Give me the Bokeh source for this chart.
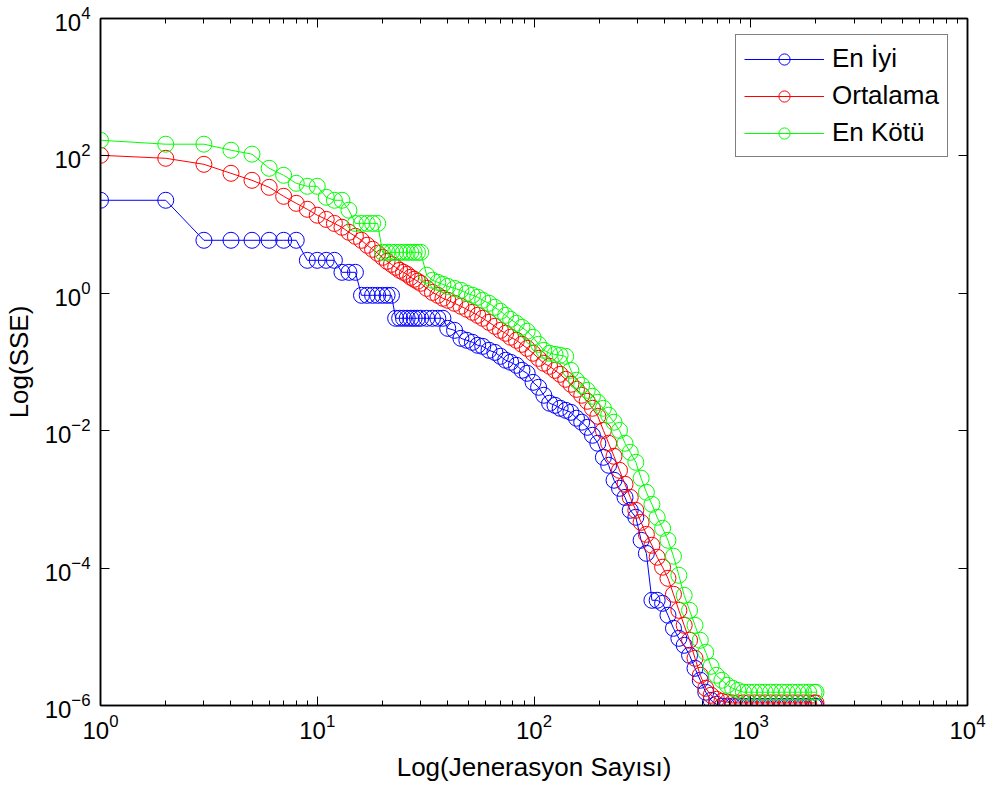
from bokeh.plotting import figure
from bokeh.models import (Range1d, LogAxis, FixedTicker, Legend, LegendItem,
                          CustomJSTickFormatter, ColumnDataSource)
from bokeh.embed import file_html
from bokeh.resources import INLINE

# ---- data ----
generations = [1, 2, 3, 4, 5, 6, 7, 8, 9, 10, 11, 12, 13, 14, 15, 16, 17, 18, 19, 20,
               21, 22, 23, 24, 25, 26, 27, 28, 29, 30,
               32, 34, 36, 38, 40, 43, 46, 49, 52, 55, 58, 62, 66, 70, 74, 78, 83, 88, 93, 99,
               105, 111, 118, 125, 132, 140, 148, 157, 166, 176, 186, 197, 209, 221, 234, 248,
               263, 278, 295, 312, 330, 350, 370, 392, 415, 440, 466, 493, 522, 553, 585, 620,
               656, 695, 736, 779, 825, 873, 925, 980, 1040, 1100, 1165, 1235, 1310, 1390, 1470,
               1560, 1650, 1750, 1850, 1960, 2000]

best = [22.6, 22.6, 5.91, 5.91, 5.91, 5.91, 5.91, 5.91, 3.02, 3.02, 3.02, 3.02, 2.02, 2.02, 2.02,
        0.935, 0.935, 0.935, 0.935, 0.935, 0.935, 0.935, 0.433, 0.433, 0.433, 0.433, 0.433, 0.433,
        0.433, 0.433,
        0.433, 0.433, 0.433, 0.433, 0.309, 0.289, 0.221, 0.207, 0.1935, 0.175, 0.169, 0.148, 0.138,
        0.121, 0.106, 0.099, 0.0895, 0.0757, 0.0685, 0.0506,
        0.0428, 0.0328, 0.0251, 0.0234, 0.0212, 0.0198, 0.0185, 0.0152, 0.0133, 0.0112, 0.00857,
        0.00656, 0.0041, 0.00314, 0.0019, 0.00145,
        0.00107, 6.94e-4, 5.49e-4, 2.54e-4, 1.64e-4, 3.4e-5, 3.4e-5, 3.07e-5, 2.06e-5, 1.33e-5,
        9.5e-6, 7.52e-6, 5.38e-6, 3.48e-6, 2.33e-6, 1.56e-6,
        1.19e-6, 1.04e-6, 9.8e-7, 9.8e-7, 9.8e-7, 9.8e-7, 9.8e-7, 9.8e-7, 9.8e-7, 9.8e-7, 9.8e-7,
        9.8e-7, 9.8e-7, 9.8e-7, 9.8e-7, 9.8e-7, 9.8e-7, 9.8e-7, 9.8e-7, 9.8e-7, 9.8e-7]

average = [102, 92.3, 75.4, 55.8, 44.1, 34.9, 25.8, 20.4, 16.7, 13.7, 11.9, 10.4, 9.14, 7.73, 6.75,
           5.91, 5.0, 4.37, 3.82, 3.34, 2.92, 2.64, 2.39, 2.16, 2.02, 1.89, 1.71, 1.6, 1.5, 1.4,
           1.18, 1.03, 0.935, 0.846, 0.791, 0.715, 0.647, 0.585, 0.529, 0.478, 0.433, 0.378, 0.331,
           0.289, 0.262, 0.229, 0.207, 0.181, 0.158, 0.134,
           0.113, 0.0958, 0.0866, 0.0757, 0.0662, 0.056, 0.0474, 0.04, 0.0328, 0.0268, 0.0212,
           0.0162, 0.0101, 0.00656, 0.00424, 0.00265,
           0.00166, 0.00107, 6.94e-4, 4.64e-4, 3.1e-4, 2.15e-4, 1.44e-4, 1.03e-4, 7.1e-5, 4.16e-5,
           2.43e-5, 1.47e-5, 8.9e-6, 4.87e-6, 2.75e-6, 1.78e-6,
           1.41e-6, 1.23e-6, 1.15e-6, 1.12e-6, 1.09e-6, 1.09e-6, 1.09e-6, 1.09e-6, 1.09e-6, 1.09e-6,
           1.09e-6, 1.09e-6, 1.09e-6, 1.09e-6, 1.09e-6, 1.09e-6, 1.09e-6, 1.09e-6, 1.09e-6,
           1.09e-6, 1.09e-6]

worst = [169, 148, 148, 121, 106, 66, 52.2, 39.9, 36.1, 36.1, 25, 22.6, 22.6, 16.2, 10.4, 10.4,
         10.4, 10.4, 10.4, 3.95, 3.95, 3.95, 3.95, 3.95, 3.95, 3.95, 3.95, 3.95, 3.95, 3.95,
         1.83, 1.55, 1.445, 1.35, 1.26, 1.18, 1.106, 1.0, 0.935, 0.875, 0.791, 0.715, 0.626,
         0.547, 0.478, 0.418, 0.366, 0.32, 0.28, 0.229,
         0.181, 0.148, 0.134, 0.129, 0.125, 0.121, 0.0757, 0.0542, 0.0458, 0.0387, 0.0317,
         0.0259, 0.0212, 0.0168, 0.0133, 0.0101,
         0.00656, 0.00485, 0.00347, 0.00203, 0.00127, 8.49e-4, 5.49e-4, 3.8e-4, 2.54e-4, 1.49e-4,
         7.86e-5, 4.02e-5, 2.43e-5, 1.47e-5, 8.9e-6, 5.95e-6,
         3.72e-6, 2.75e-6, 2.33e-6, 1.97e-6, 1.78e-6, 1.66e-6, 1.56e-6, 1.56e-6, 1.56e-6, 1.56e-6,
         1.56e-6, 1.56e-6, 1.56e-6, 1.56e-6, 1.56e-6, 1.56e-6, 1.56e-6, 1.56e-6, 1.56e-6,
         1.56e-6, 1.56e-6]

series_names = ["En İyi", "Ortalama", "En Kötü"]
series_colors = ["#0000ff", "#ff0000", "#00ff00"]
x_major = [1, 10, 100, 1000, 10000]
y_major = [1e-6, 1e-4, 1e-2, 1, 1e2, 1e4]
x_label = "Log(Jenerasyon Sayısı)"
y_label = "Log(SSE)"

assert len(best) == len(generations) == len(average) == len(worst)

FONT = "Liberation Sans"
TICK_FS = "24px"
LABEL_FS = "26px"

p = figure(width=995, height=789, x_axis_type="log", y_axis_type="log",
           x_range=Range1d(1, 1e4), y_range=Range1d(1e-6, 1e4),
           output_backend="svg", toolbar_location=None,
           min_border_left=100, min_border_right=28, min_border_top=18, min_border_bottom=84,
           background_fill_color="white", border_fill_color="white")
p.xgrid.visible = False
p.ygrid.visible = False
p.outline_line_color = "black"
p.outline_line_width = 1.5

x_minor = [m * 10 ** k for k in range(4) for m in range(2, 10)]
xt = FixedTicker(ticks=x_major, minor_ticks=x_minor)
yt = FixedTicker(ticks=y_major, minor_ticks=[])


def style(ax):
    ax.axis_line_color = "black"
    ax.axis_line_width = 1.5
    ax.major_tick_in = 9
    ax.major_tick_out = 0
    ax.minor_tick_in = 5
    ax.minor_tick_out = 0
    ax.major_tick_line_color = "black"
    ax.minor_tick_line_color = "black"
    ax.major_label_text_font = FONT
    ax.major_label_text_font_size = TICK_FS
    ax.major_label_text_color = "black"
    ax.axis_label_text_font = FONT
    ax.axis_label_text_font_size = LABEL_FS
    ax.axis_label_text_font_style = "normal"
    ax.axis_label_text_color = "black"


xa = p.xaxis[0]
xa.ticker = xt
style(xa)
xa.axis_label = x_label
xa.major_label_standoff = 8
xa.axis_label_standoff = 10

ya = p.yaxis[0]
ya.ticker = yt
style(ya)
ya.axis_label = y_label
ya.major_label_standoff = 10
ya.axis_label_standoff = 8

top = LogAxis(ticker=FixedTicker(ticks=x_major, minor_ticks=x_minor),
              formatter=CustomJSTickFormatter(code="return '';"))
style(top)
top.major_label_standoff = 0
p.add_layout(top, "above")
right = LogAxis(ticker=FixedTicker(ticks=y_major, minor_ticks=[]),
                formatter=CustomJSTickFormatter(code="return '';"))
style(right)
right.major_label_standoff = 0
p.add_layout(right, "right")

items = []
for name, color, ys in zip(series_names, series_colors, [best, average, worst]):
    src = ColumnDataSource(dict(x=generations, y=ys))
    lr = p.line("x", "y", source=src, line_color=color, line_width=1)
    sr = p.scatter("x", "y", source=src, marker="circle", size=16, fill_color=None,
                   line_color=color, line_width=1)
    items.append(LegendItem(label=name, renderers=[lr, sr]))

legend = Legend(items=items, location=(635, 548))
legend.border_line_color = "black"
legend.border_line_width = 1
legend.background_fill_color = "white"
legend.background_fill_alpha = 1
legend.label_text_font = FONT
legend.label_text_font_size = "26px"
legend.label_text_color = "black"
legend.glyph_width = 80
legend.glyph_height = 28
legend.label_standoff = 8
legend.padding = 8
legend.spacing = 6
legend.margin = 0
p.add_layout(legend)

open("out.html", "w").write(file_html(p, INLINE))
